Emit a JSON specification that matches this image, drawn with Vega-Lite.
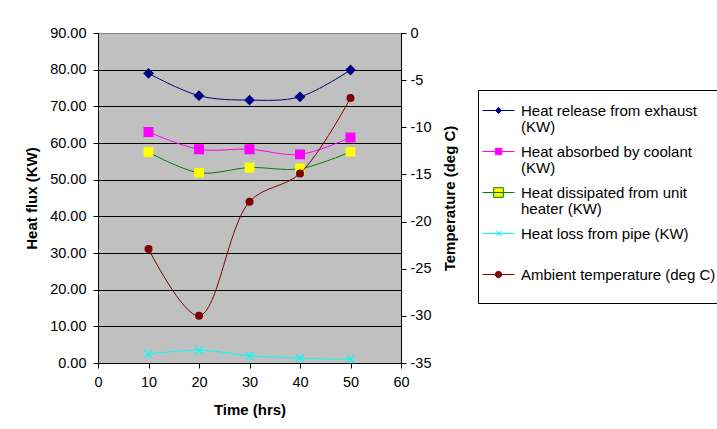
{
  "$schema": "https://vega.github.io/schema/vega-lite/v6.json",
  "width": 303,
  "height": 330,
  "autosize": {"type": "none"},
  "padding": {"left": 98, "top": 33, "right": 316, "bottom": 66},
  "background": "white",
  "config": {
    "font": "Liberation Sans",
    "view": {"fill": "#C0C0C0", "stroke": "#808080", "strokeWidth": 1},
    "axis": {
      "labelFont": "Liberation Sans", "labelFontSize": 14.5, "labelColor": "black",
      "titleFont": "Liberation Sans", "titleFontSize": 15, "titleFontWeight": "bold", "titleColor": "black",
      "domainColor": "black", "tickColor": "black", "tickSize": 5, "grid": false
    }
  },
  "data": {"values": [
    {"time": 10, "series": "Heat release from exhaust (KW)", "value": 79.0},
    {"time": 20, "series": "Heat release from exhaust (KW)", "value": 72.9},
    {"time": 30, "series": "Heat release from exhaust (KW)", "value": 71.7},
    {"time": 40, "series": "Heat release from exhaust (KW)", "value": 72.6},
    {"time": 50, "series": "Heat release from exhaust (KW)", "value": 79.9},
    {"time": 10, "series": "Heat absorbed by coolant (KW)", "value": 63.0},
    {"time": 20, "series": "Heat absorbed by coolant (KW)", "value": 58.3},
    {"time": 30, "series": "Heat absorbed by coolant (KW)", "value": 58.3},
    {"time": 40, "series": "Heat absorbed by coolant (KW)", "value": 56.9},
    {"time": 50, "series": "Heat absorbed by coolant (KW)", "value": 61.5},
    {"time": 10, "series": "Heat dissipated from unit heater (KW)", "value": 57.5},
    {"time": 20, "series": "Heat dissipated from unit heater (KW)", "value": 51.9},
    {"time": 30, "series": "Heat dissipated from unit heater (KW)", "value": 53.3},
    {"time": 40, "series": "Heat dissipated from unit heater (KW)", "value": 53.0},
    {"time": 50, "series": "Heat dissipated from unit heater (KW)", "value": 57.6},
    {"time": 10, "series": "Heat loss from pipe (KW)", "value": 2.45},
    {"time": 20, "series": "Heat loss from pipe (KW)", "value": 3.5},
    {"time": 30, "series": "Heat loss from pipe (KW)", "value": 2.0},
    {"time": 40, "series": "Heat loss from pipe (KW)", "value": 1.3},
    {"time": 50, "series": "Heat loss from pipe (KW)", "value": 1.0},
    {"time": 10, "series": "Ambient temperature (deg C)", "value": -22.9},
    {"time": 20, "series": "Ambient temperature (deg C)", "value": -30.0},
    {"time": 30, "series": "Ambient temperature (deg C)", "value": -17.9},
    {"time": 40, "series": "Ambient temperature (deg C)", "value": -14.9},
    {"time": 50, "series": "Ambient temperature (deg C)", "value": -6.9}
  ]},
  "encoding": {
    "x": {
      "field": "time", "type": "quantitative",
      "scale": {"domain": [0, 60], "nice": false},
      "axis": {"values": [0, 10, 20, 30, 40, 50, 60], "title": "Time (hrs)", "labelPadding": 7, "titlePadding": 14, "labelFlush": false}
    }
  },
  "layer": [
    {
      "transform": [{"filter": "datum.series != 'Ambient temperature (deg C)'"}],
      "encoding": {
        "y": {
          "field": "value", "type": "quantitative",
          "scale": {"domain": [0, 90], "nice": false, "zero": false},
          "axis": {"values": [0, 10, 20, 30, 40, 50, 60, 70, 80, 90], "format": ".2f", "title": "Heat flux (KW)", "grid": true,
                   "gridColor": {"condition": {"test": "datum.value == 90", "value": "#808080"}, "value": "black"},
                   "gridOpacity": 1, "gridWidth": 1, "labelPadding": 7, "titlePadding": 10}
        }
      },
      "layer": [
        {
          "mark": {"type": "line", "interpolate": "catmull-rom", "strokeWidth": 1},
          "encoding": {
            "color": {
              "field": "series", "type": "nominal",
              "scale": {
                "domain": ["Heat release from exhaust (KW)", "Heat absorbed by coolant (KW)", "Heat dissipated from unit heater (KW)", "Heat loss from pipe (KW)", "Ambient temperature (deg C)"],
                "range": ["#000080", "#FF00FF", "#008000", "#00FFFF", "#800000"]
              },
              "legend": {
                "orient": "none", "legendX": 380, "legendY": 57,
                "title": null,
                "strokeColor": "black", "fillColor": "white", "padding": 4,
                "labelFont": "Liberation Sans", "labelFontSize": 15, "labelColor": "black", "labelLimit": 300,
                "symbolSize": 1024, "symbolStrokeWidth": 1, "labelOffset": 6, "rowPadding": 0,
                "labelExpr": "indexof(datum.label,'exhaust')>=0 ? ['Heat release from exhaust','(KW)'] : indexof(datum.label,'coolant')>=0 ? ['Heat absorbed by coolant','(KW)'] : indexof(datum.label,'dissipated')>=0 ? ['Heat dissipated from unit','heater (KW)'] : indexof(datum.label,'pipe')>=0 ? ['Heat loss from pipe (KW)',''] : ['Ambient temperature (deg C)','']",
                "encode": {
                  "symbols": {"update": {
                    "shape": {"signal": "indexof(datum.value,'exhaust')>=0 ? 'M-1,0H1M0,-0.19L0.19,0L0,0.19L-0.19,0Z' : indexof(datum.value,'coolant')>=0 ? 'M-1,0H1M-0.2,-0.2H0.2V0.2H-0.2Z' : indexof(datum.value,'dissipated')>=0 ? 'M-1,0H1M-0.3,-0.3H0.3V0.3H-0.3Z' : indexof(datum.value,'pipe')>=0 ? 'M-1,0H1M-0.17,-0.17L0.17,0.17M-0.17,0.17L0.17,-0.17' : 'M-1,0H1M-0.2,0A0.2,0.2,0,1,1,0.2,0A0.2,0.2,0,1,1,-0.2,0Z'"},
                    "fill": {"signal": "indexof(datum.value,'exhaust')>=0 ? '#000080' : indexof(datum.value,'coolant')>=0 ? '#FF00FF' : indexof(datum.value,'dissipated')>=0 ? '#FFFF00' : indexof(datum.value,'pipe')>=0 ? 'transparent' : '#800000'"},
                    "stroke": {"signal": "indexof(datum.value,'exhaust')>=0 ? '#000080' : indexof(datum.value,'coolant')>=0 ? '#FF00FF' : indexof(datum.value,'dissipated')>=0 ? '#008000' : indexof(datum.value,'pipe')>=0 ? '#00FFFF' : '#800000'"},
                    "opacity": {"value": 1},
                    "fillOpacity": {"value": 1},
                    "strokeWidth": {"value": 1}
                  }},
                  "labels": {"update": {"lineHeight": {"value": 16}}}
                }
              }
            }
          }
        },
        {
          "mark": {"type": "point", "opacity": 1, "strokeWidth": 1.3},
          "encoding": {
            "shape": {"field": "series", "type": "nominal", "legend": null,
              "scale": {"domain": ["Heat release from exhaust (KW)", "Heat absorbed by coolant (KW)", "Heat dissipated from unit heater (KW)", "Heat loss from pipe (KW)"],
                        "range": ["diamond", "square", "square", "M-1,-1L1,1M-1,1L1,-1"]}},
            "size": {"field": "series", "type": "nominal", "legend": null,
              "scale": {"domain": ["Heat release from exhaust (KW)", "Heat absorbed by coolant (KW)", "Heat dissipated from unit heater (KW)", "Heat loss from pipe (KW)"],
                        "range": [81, 64, 144, 64]}},
            "fill": {"field": "series", "type": "nominal", "legend": null,
              "scale": {"domain": ["Heat release from exhaust (KW)", "Heat absorbed by coolant (KW)", "Heat dissipated from unit heater (KW)", "Heat loss from pipe (KW)"],
                        "range": ["#000080", "#FF00FF", "#FFFF00", "transparent"]}},
            "stroke": {"field": "series", "type": "nominal", "legend": null,
              "scale": {"domain": ["Heat release from exhaust (KW)", "Heat absorbed by coolant (KW)", "Heat dissipated from unit heater (KW)", "Heat loss from pipe (KW)"],
                        "range": ["#000080", "#FF00FF", "#FFFF00", "#00FFFF"]}}
          }
        }
      ]
    },
    {
      "transform": [{"filter": "datum.series == 'Ambient temperature (deg C)'"}],
      "encoding": {
        "y": {
          "field": "value", "type": "quantitative",
          "scale": {"domain": [-35, 0], "nice": false, "zero": false},
          "axis": {"orient": "right", "values": [-35, -30, -25, -20, -15, -10, -5, 0], "labelExpr": "datum.value + ''", "title": "Temperature (deg C)", "titleAngle": 270, "titleBaseline": "top", "labelPadding": 4, "titlePadding": 12}
        }
      },
      "layer": [
        {
          "mark": {"type": "line", "interpolate": "catmull-rom", "strokeWidth": 1},
          "encoding": {"color": {"field": "series", "type": "nominal", "legend": null}}
        },
        {
          "mark": {"type": "point", "shape": "circle", "filled": true, "size": 64, "opacity": 1, "color": "#800000"},
          "encoding": {}
        }
      ]
    }
  ],
  "resolve": {"scale": {"y": "independent"}}
}
